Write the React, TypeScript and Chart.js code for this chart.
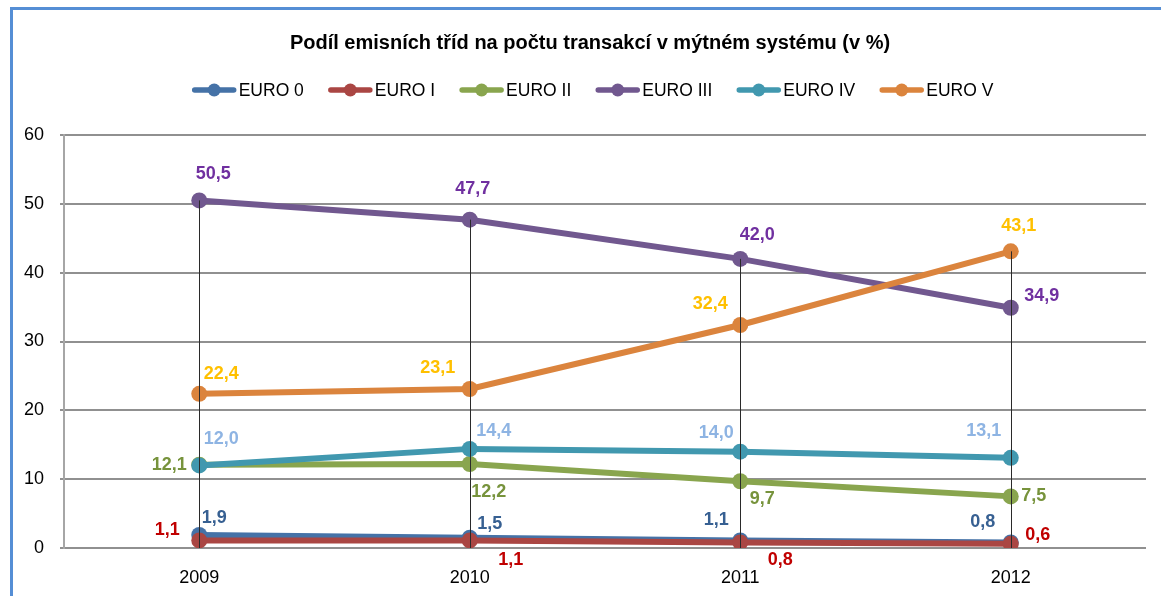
import React, { useEffect, useRef } from "react";
import { Chart, registerables } from "chart.js";

Chart.register(...registerables);

// ---- data ----
const categories = ["2009", "2010", "2011", "2012"];
const seriesNames = ["EURO 0", "EURO I", "EURO II", "EURO III", "EURO IV", "EURO V"];
const euro0 = [1.9, 1.5, 1.1, 0.8];
const euroI = [1.1, 1.1, 0.8, 0.6];
const euroII = [12.1, 12.2, 9.7, 7.5];
const euroIII = [50.5, 47.7, 42.0, 34.9];
const euroIV = [12.0, 14.4, 14.0, 13.1];
const euroV = [22.4, 23.1, 32.4, 43.1];
const yTickValues = [0, 10, 20, 30, 40, 50, 60];
const chartTitle = "Podíl emisních tříd na počtu transakcí v mýtném systému (v %)";

const seriesValues = [euro0, euroI, euroII, euroIII, euroIV, euroV];

// ---- styles ----
const lineColors = ["#4572A7", "#AA4643", "#89A54E", "#71588F", "#4198AF", "#DB843D"];
const labelColors = ["#376092", "#C00000", "#77933C", "#7030A0", "#8EB4E3", "#FFC000"];
// data label placement (dx, dy from the point centre), per series per category
const labelOffsets: [number, number][][] = [
  [[15, -17], [20, -14], [-24, -20], [-28, -20]],
  [[-32, -10], [41, 20], [40, 18], [27, -9]],
  [[-30, 0], [19, 28], [22, 18], [23, 0]],
  [[14, -26], [3, -31], [17, -24], [31, -12]],
  [[22, -26], [24, -18], [-24, -19], [-27, -27]],
  [[22, -20], [-32, -21], [-30, -21], [8, -25]],
];

const FONT = "'Liberation Sans', Arial, sans-serif";
const fmt = (v: number) => v.toFixed(1).replace(".", ",");

const dropLinesPlugin = {
  id: "dropLines",
  afterDatasetsDraw(chart: any) {
    const { ctx, chartArea, scales } = chart;
    ctx.save();
    ctx.strokeStyle = "#2a2a2a";
    ctx.lineWidth = 1;
    categories.forEach((_, i) => {
      let max = -Infinity;
      seriesValues.forEach((s) => {
        if (s[i] > max) max = s[i];
      });
      const x = Math.round(scales.x.getPixelForValue(i)) + 0.5;
      const y = scales.y.getPixelForValue(max);
      ctx.beginPath();
      ctx.moveTo(x, y);
      ctx.lineTo(x, chartArea.bottom);
      ctx.stroke();
    });
    ctx.restore();
  },
};

const dataLabelsPlugin = {
  id: "dataLabels",
  afterDraw(chart: any) {
    const { ctx } = chart;
    ctx.save();
    ctx.font = `bold 18px ${FONT}`;
    ctx.textAlign = "center";
    ctx.textBaseline = "middle";
    chart.data.datasets.forEach((ds: any, di: number) => {
      const meta = chart.getDatasetMeta(di);
      meta.data.forEach((pt: any, i: number) => {
        const [dx, dy] = labelOffsets[di][i];
        ctx.fillStyle = labelColors[di];
        ctx.fillText(fmt(ds.data[i]), pt.x + dx, pt.y + dy);
      });
    });
    ctx.restore();
  },
};

const titleLegendPlugin = {
  id: "titleLegend",
  afterDraw(chart: any) {
    const { ctx } = chart;
    ctx.save();
    // title
    ctx.font = `bold 20px ${FONT}`;
    ctx.fillStyle = "#000000";
    ctx.textAlign = "center";
    ctx.textBaseline = "middle";
    ctx.fillText(chartTitle, 590, 43);
    // legend
    ctx.font = `17.5px ${FONT}`;
    const markerW = 43;
    const gapText = 3;
    const gapItem = 25;
    const widths = seriesNames.map((n) => ctx.measureText(n).width);
    const total =
      widths.reduce((a, b) => a + b, 0) + seriesNames.length * (markerW + gapText) + (seriesNames.length - 1) * gapItem;
    let x = 593 - total / 2;
    const y = 90;
    ctx.textAlign = "left";
    seriesNames.forEach((n, i) => {
      ctx.strokeStyle = lineColors[i];
      ctx.fillStyle = lineColors[i];
      ctx.lineWidth = 5.5;
      ctx.lineCap = "round";
      ctx.beginPath();
      ctx.moveTo(x + 2, y);
      ctx.lineTo(x + markerW - 2, y);
      ctx.stroke();
      ctx.beginPath();
      ctx.arc(x + markerW / 2, y, 6.5, 0, Math.PI * 2);
      ctx.fill();
      ctx.fillStyle = "#000000";
      ctx.fillText(n, x + markerW + gapText, y + 1);
      x += markerW + gapText + widths[i] + gapItem;
    });
    ctx.restore();
  },
};

export default function App() {
  const ref = useRef<HTMLCanvasElement | null>(null);

  useEffect(() => {
    if (!ref.current) return;
    const chart = new Chart(ref.current, {
      type: "line",
      data: {
        labels: categories,
        datasets: seriesNames.map((name, i) => ({
          label: name,
          data: seriesValues[i],
          borderColor: lineColors[i],
          backgroundColor: lineColors[i],
          pointBackgroundColor: lineColors[i],
          pointBorderColor: lineColors[i],
          borderWidth: 6,
          pointRadius: 8,
          pointBorderWidth: 0,
          tension: 0,
          fill: false,
          order: seriesNames.length - 1 - i,
        })),
      },
      options: {
        animation: false,
        responsive: false,
        maintainAspectRatio: false,
        layout: { padding: { top: 135, right: 15, left: 0, bottom: 0 } },
        plugins: {
          legend: { display: false },
          title: { display: false },
          tooltip: { enabled: false },
        },
        scales: {
          x: {
            offset: true,
            grid: { display: false, drawTicks: false },
            border: { display: false },
            ticks: {
              padding: 19,
              color: "#000000",
              font: { family: FONT, size: 18 },
            },
            afterFit: (s: any) => {
              s.height = 48;
            },
          },
          y: {
            min: 0,
            max: 60,
            afterBuildTicks: (s: any) => {
              s.ticks = yTickValues.map((v) => ({ value: v }));
            },
            grid: {
              color: "#909090",
              lineWidth: 2,
              tickLength: 4,
              tickColor: "#909090",
            },
            border: { display: true, color: "#a6a6a6", width: 2 },
            ticks: {
              padding: 16,
              color: "#000000",
              font: { family: FONT, size: 18 },
            },
            afterFit: (s: any) => {
              s.width = 64;
            },
          },
        },
      },
      plugins: [dropLinesPlugin, dataLabelsPlugin, titleLegendPlugin],
    });
    return () => chart.destroy();
  }, []);

  return (
    <div
      style={{
        position: "fixed",
        left: 0,
        top: 0,
        width: 1161,
        height: 596,
        background: "#ffffff",
        overflow: "hidden",
      }}
    >
      <canvas ref={ref} width={1161} height={596} style={{ display: "block" }} />
      <div
        style={{
          position: "absolute",
          left: 10,
          top: 7,
          width: 1200,
          height: 700,
          borderTop: "3px solid #558ED5",
          borderLeft: "3px solid #558ED5",
          pointerEvents: "none",
        }}
      />
    </div>
  );
}
